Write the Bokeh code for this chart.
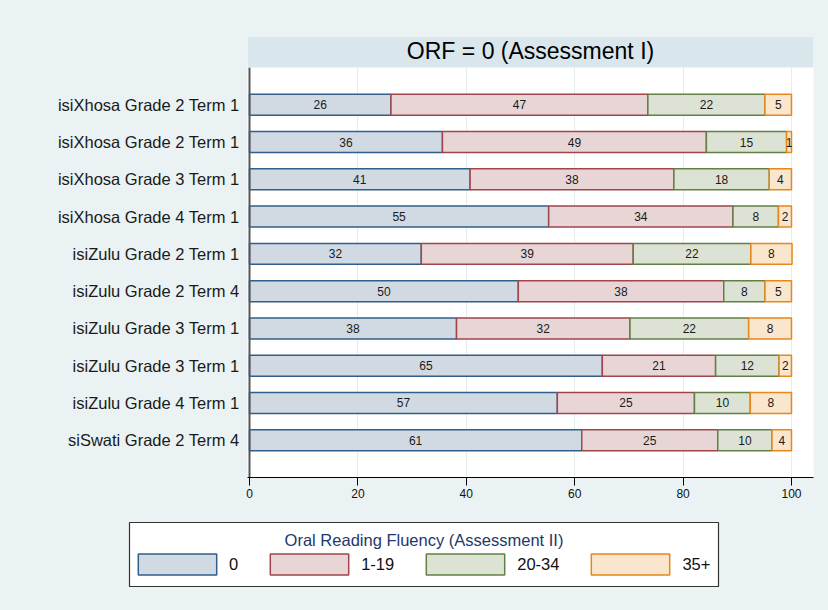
import numpy as np
from bokeh.plotting import figure
from bokeh.layouts import column
from bokeh.models import (ColumnDataSource, Range1d, FixedTicker, Legend,
                          LegendItem, BoxAnnotation, Label)
from bokeh.core.properties import value
from bokeh.embed import file_html
from bokeh.resources import INLINE

# ---------------- data ----------------
groups = [
    "isiXhosa Grade 2 Term 1",
    "isiXhosa Grade 2 Term 1",
    "isiXhosa Grade 3 Term 1",
    "isiXhosa Grade 4 Term 1",
    "isiZulu Grade 2 Term 1",
    "isiZulu Grade 2 Term 4",
    "isiZulu Grade 3 Term 1",
    "isiZulu Grade 3 Term 1",
    "isiZulu Grade 4 Term 1",
    "siSwati Grade 2 Term 4",
]
series = ["0", "1-19", "20-34", "35+"]
orf_0 = [26.1, 35.6, 40.7, 55.2, 31.7, 49.6, 38.2, 65.1, 56.8, 61.3]
orf_1_19 = [47.4, 48.7, 37.6, 34.0, 39.1, 37.9, 32.0, 20.9, 25.3, 25.1]
orf_20_34 = [21.6, 14.8, 17.6, 8.4, 21.7, 7.6, 21.9, 11.7, 10.3, 10.0]
orf_35p = [4.9, 0.9, 4.1, 2.4, 7.6, 4.9, 7.9, 2.3, 7.6, 3.6]
x_ticks = [0, 20, 40, 60, 80, 100]
title_text = "ORF = 0 (Assessment I)"
legend_title = "Oral Reading Fluency (Assessment II)"

# ---------------- style ----------------
BG = "#EAF2F3"
BAND = "#D9E6EB"
FONT = "Liberation Sans"
fills = ["#D1DAE3", "#E8D6D7", "#DDE3D4", "#FAE5CD"]
lines = ["#2F5F8A", "#A0454C", "#628043", "#E8871A"]

rows = np.arange(1, len(groups) + 1)

p = figure(width=828, height=510, output_backend="svg", toolbar_location=None,
           x_range=Range1d(-0.369, 104.06), y_range=Range1d(11, -0.832),
           min_border_left=247, min_border_right=15, min_border_top=36,
           min_border_bottom=33)
p.frame_align = False
p.background_fill_color = "white"
p.border_fill_color = BG
p.outline_line_color = None

# grid
p.xgrid.ticker = FixedTicker(ticks=x_ticks)
p.xgrid.grid_line_color = "#E3ECEF"
p.xgrid.grid_line_width = 1
p.ygrid.grid_line_color = None

# x axis
p.xaxis.ticker = FixedTicker(ticks=x_ticks)
p.xaxis.axis_line_color = "black"
p.xaxis.axis_line_width = 1
p.xaxis.major_tick_line_color = "black"
p.xaxis.major_tick_out = 8
p.xaxis.major_tick_in = 0
p.xaxis.minor_tick_line_color = None
p.xaxis.major_label_text_font = FONT
p.xaxis.major_label_text_font_size = "12px"
p.xaxis.major_label_text_color = "#111111"
p.xaxis.major_label_standoff = 3

# y axis
p.yaxis.ticker = FixedTicker(ticks=list(rows))
p.yaxis.major_label_overrides = {int(r): g for r, g in zip(rows, groups)}
p.yaxis.axis_line_color = None
p.yaxis.major_tick_line_color = None
p.yaxis.minor_tick_line_color = None
p.yaxis.major_tick_out = 0
p.yaxis.major_tick_in = 0
p.yaxis.major_label_standoff = 8
p.yaxis.major_label_text_font = FONT
p.yaxis.major_label_text_font_size = "16.5px"
p.yaxis.major_label_text_color = "#1a1a1a"

# bars
vals = [orf_0, orf_1_19, orf_20_34, orf_35p]
left = np.zeros(len(groups))
for name, v, fc, lc in zip(series, vals, fills, lines):
    v = np.array(v, dtype=float)
    right = left + v
    src = ColumnDataSource(dict(y=rows, left=left, right=right,
                                mid=(left + right) / 2,
                                lab=[f"{x:.0f}" for x in v]))
    p.hbar(y="y", left="left", right="right", height=0.563, source=src,
           fill_color=fc, line_color=lc, line_width=1.5)
    p.text(x="mid", y="y", text="lab", source=src, text_align="center",
           text_baseline="middle", text_font=value(FONT),
           text_font_size="12px", text_color="#1a1a1a")
    left = right

# y axis line (stops at title band)
p.segment(x0=[0], y0=[0], x1=[0], y1=[11], line_color="#555555", line_width=2)

# title band
band = BoxAnnotation(top=-0.832, bottom=0, fill_color=BAND, fill_alpha=1.0,
                     line_color=None, line_alpha=0)
p.add_layout(band)
p.add_layout(Label(x=51.85, y=-0.44, text=title_text, text_align="center",
                   text_baseline="middle", text_font=FONT,
                   text_font_size="23px", text_color="black"))

# ---------------- legend panel ----------------
lf = figure(width=828, height=100, output_backend="svg", toolbar_location=None,
            x_range=Range1d(0, 828), y_range=Range1d(610, 510),
            min_border_left=0, min_border_right=0, min_border_top=0,
            min_border_bottom=0)
lf.frame_align = False
lf.axis.visible = False
lf.grid.grid_line_color = None
lf.background_fill_color = BG
lf.border_fill_color = BG
lf.outline_line_color = None

# legend frame box
lf.quad(left=[129], right=[718], top=[522], bottom=[586], fill_color="white",
        line_color="#333333", line_width=1.2)

items = []
for name, fc, lc in zip(series, fills, lines):
    r = lf.hbar(y=[np.nan], left=[np.nan], right=[np.nan], height=1,
                fill_color=fc, line_color=lc, line_width=1.5)
    items.append(LegendItem(label=value(name), renderers=[r]))

legend = Legend(
    items=items, orientation="horizontal", location=(128, 33),
    glyph_width=98, glyph_height=26, label_height=26, label_width=0,
    label_standoff=3, spacing=22, padding=0, margin=0,
    label_text_font=FONT, label_text_font_size="16.5px",
    label_text_color="#111111", label_text_baseline="middle",
    border_line_color=None, background_fill_alpha=0.0,
)
lf.add_layout(legend)
title_lbl = Label(x=423.5, y=539, text=legend_title, text_align="center",
                  text_baseline="middle", text_font=FONT,
                  text_font_size="16.5px", text_color="#22386A")
title_lbl.level = "overlay"
lf.add_layout(title_lbl)

layout = column(p, lf, spacing=0, styles={"background-color": BG})
open("out.html", "w").write(file_html(layout, INLINE))
